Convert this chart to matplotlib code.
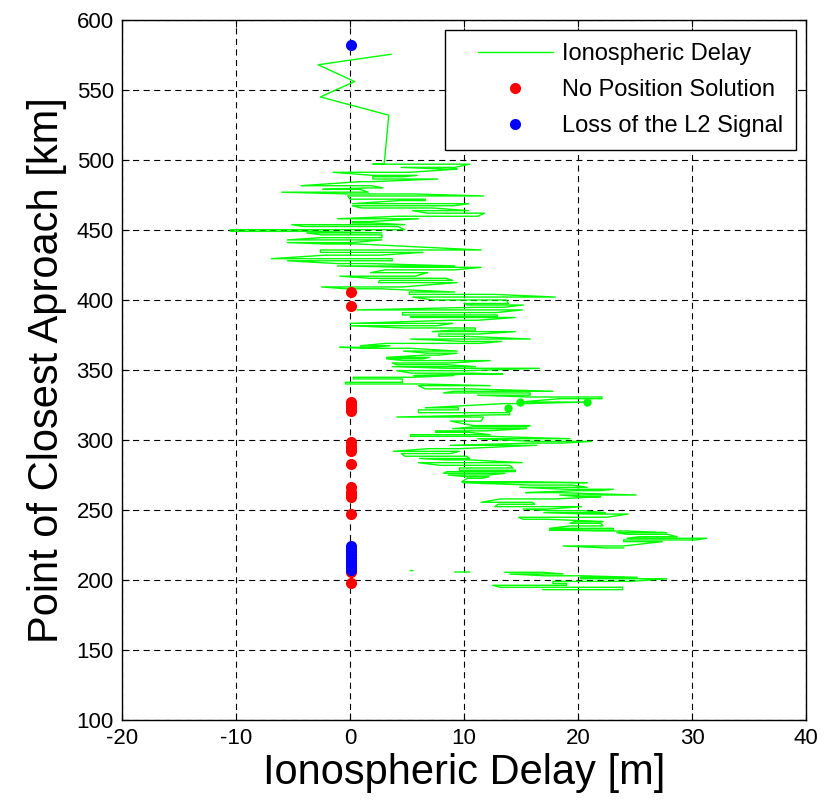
import numpy as np
import matplotlib.pyplot as plt
from matplotlib.lines import Line2D
from matplotlib.legend_handler import HandlerLine2D

plt.rcParams['font.family'] = ['Liberation Sans', 'DejaVu Sans']
plt.rcParams['axes.unicode_minus'] = False

# Sparse samples at the top of the pass
head_delay = [3.6, -2.8, 0.4, -2.6, 3.4, 3.0]
head_pca = [575.5, 568.0, 556.0, 545.0, 532.0, 497.5]

# Dense part of the trace: each horizontal sweep as (pca, left delay, right delay)
# nan rows mark gaps in the record
sweep_pca = [497.0, 494.7, 493.5, 491.2, 489.0, 488.0, 486.4, 484.5, 481.6, 480.0,
             479.0, 477.0, 475.7, 474.3, 472.0, 471.0, 468.8, 467.3, 465.7, 463.8,
             462.0, 459.8, 458.0, 456.0, 455.0, 453.8, 452.5, 450.2, 449.0, 447.9,
             446.5, 444.5, 442.9, 441.0, 440.0, 435.7, 434.0, 432.0, 429.5, 428.0,
             426.0, 424.3, 423.3, 421.5, 419.5, 417.0, 415.5, 414.0, 412.4, 409.3,
             408.0, 405.7, 404.0, 402.1, 400.0, 397.5, 396.4, 394.8, 392.9, 391.0,
             389.3, 388.0, 387.5, 385.5, 383.3, 381.6, 380.0, 378.5, 377.4, 375.7,
             374.0, 372.1, 370.4, 369.0, 367.3, 366.2, 365.5, 363.5, 362.0, 360.6,
             359.0, 358.0, 356.7, 355.0, 353.8, 352.4, 351.2, 349.5, 347.7, 347.0,
             346.0, 344.8, 343.6, 341.2, 340.0, 338.8, 336.5, 334.8, 333.6, 332.0,
             330.7, 329.5, 327.1, 326.0, 323.0, 321.5, 319.5, 318.0, 316.4, 313.5,
             310.3, 309.3, 308.1, 306.5, 305.5, 303.8, 302.6, 300.9, 299.0, 297.8,
             296.2, 293.8, 291.9, 290.3, 288.4, 286.8, 285.8, 283.8, 281.9, 280.0,
             278.4, 277.4, 276.2, 275.0, 273.8, 272.6, 270.2, 269.5, 267.8, 266.2,
             264.8, 263.8, 262.4, 260.7, 259.5, 257.9, 255.5, 254.1, 252.4, 250.7,
             249.5, 248.1, 247.1, 244.8, 243.4, 241.7, 240.5, 238.6, 236.9, 235.7,
             235.0, 233.8, 232.6, 230.9, 229.8, 228.6, 227.4, 224.3, 222.9, np.nan,
             206.7, np.nan, 205.7, np.nan, 205.5, 204.3, 203.0, 201.9, 200.9, 199.0,
             197.5, 196.2, 194.8, 193.1]
sweep_left = [2.0, 4.5, 8.3, -1.5, 2.0, 2.0, 2.0, 0.8, -4.3, 1.3,
              -2.4, -6.0, 0.0, -0.2, 0.0, 4.3, 0.2, 0.2, 1.0, 5.5,
              6.8, 4.2, -1.1, 0.2, 0.2, -5.1, -4.1, -10.5, -10.5, -3.8,
              -2.5, -2.5, -5.5, -5.5, -2.2, -2.6, -2.6, -2.2, -6.9, -5.5,
              -1.1, -1.1, 5.7, 3.1, 1.8, -0.9, 1.8, 2.6, 2.5, -2.5,
              -0.4, 5.2, 5.2, 5.5, 7.3, 10.0, 10.3, 11.2, 0.6, 4.6,
              4.6, 5.3, 5.3, 8.8, 0.0, 0.0, 4.7, 9.0, 7.2, 7.8,
              7.8, 5.3, 10.0, 3.2, 0.9, -0.9, 1.1, 4.7, 6.8, 6.6,
              3.2, 3.2, 4.7, 3.7, 4.1, 3.7, 8.6, 4.1, 5.4, 10.5,
              5.6, 0.3, 0.3, -0.4, -0.4, 6.0, 6.6, 9.1, 8.2, 11.2,
              15.8, 18.4, 14.9, 13.5, 6.6, 6.0, 6.0, 13.0, 4.1, 8.8,
              10.8, 10.8, 9.0, 7.5, 7.5, 5.3, 5.3, 11.2, 16.1, 16.1,
              8.8, 6.9, 3.8, 4.5, 4.8, 6.1, 8.3, 6.0, 7.9, 9.6,
              9.6, 8.5, 8.2, 8.6, 10.2, 10.3, 9.8, 9.9, 15.8, 14.9,
              19.0, 19.9, 15.4, 18.4, 20.2, 13.2, 11.5, 13.0, 12.7, 15.2,
              17.5, 17.0, 20.9, 14.8, 15.2, 19.7, 19.3, 19.3, 17.5, 17.5,
              22.2, 23.4, 24.3, 25.4, 24.3, 24.0, 24.0, 18.7, 22.4, np.nan,
              5.3, np.nan, 9.2, np.nan, 13.6, 14.0, 17.1, 20.2, 20.2, 17.8,
              17.8, 12.5, 13.2, 16.9]
sweep_right = [10.5, 9.2, 9.4, 5.3, 5.9, 4.6, 7.7, 1.9, 1.9, 2.9,
               0.9, 1.6, 5.7, 11.7, 6.6, 6.6, 10.4, 9.1, 7.3, 10.4,
               11.8, 11.2, 6.0, 1.8, 2.0, 4.8, 4.2, 4.8, -3.3, 2.8,
               2.8, 2.8, 2.8, 0.2, 0.7, 11.5, 6.4, 2.6, 3.7, 3.7,
               1.8, 9.2, 11.5, 9.2, 6.8, 5.7, 8.4, 9.0, 9.4, 4.6,
               2.6, 9.2, 12.7, 18.0, 13.7, 13.9, 15.2, 13.5, 15.1, 12.8,
               12.9, 12.9, 14.5, 11.2, 9.0, 7.6, 11.0, 11.0, 14.5, 11.3,
               10.3, 15.8, 13.3, 11.4, 3.5, 1.9, 5.3, 9.4, 9.4, 7.8,
               7.0, 6.4, 12.3, 8.8, 8.4, 11.0, 16.6, 10.2, 10.9, 13.4,
               9.1, 5.5, 4.6, 4.6, 6.1, 12.3, 10.4, 17.8, 15.8, 15.8,
               22.1, 22.1, 20.8, 15.5, 9.5, 9.5, 14.0, 14.0, 11.7, 11.5,
               15.8, 15.5, 15.5, 12.0, 10.4, 12.3, 12.2, 19.3, 21.2, 18.7,
               16.4, 9.6, 9.6, 8.8, 10.2, 10.5, 10.4, 15.1, 14.0, 14.3,
               14.5, 14.5, 13.6, 12.2, 12.2, 11.6, 15.2, 20.8, 19.5, 20.8,
               23.1, 22.0, 18.2, 25.1, 22.0, 18.0, 16.0, 16.2, 20.3, 17.5,
               20.4, 22.4, 24.4, 22.5, 17.3, 22.2, 22.0, 22.2, 23.1, 23.1,
               24.3, 27.8, 27.8, 28.7, 31.3, 30.3, 27.4, 24.0, 24.0, np.nan,
               5.5, np.nan, 10.5, np.nan, 16.9, 18.7, 20.3, 25.2, 27.8, 24.6,
               19.0, 19.0, 23.9, 23.9]

# Isolated samples drawn as green blobs on the trace
blob_delay = [14.9, 20.8, 13.9]
blob_pca = [327.1, 327.1, 323.0]

# Events
nps_pca = [405.5, 396.0, 327.0, 325.0, 323.0, 321.0, 298.5, 296.0, 294.0, 292.0,
           282.5, 266.4, 263.0, 260.5, 259.2, 247.0, 206.0, 198.0]
los_pca = [582.0, 224.0, 222.0, 220.0, 218.0, 216.0, 214.0, 212.0, 210.0, 208.5, 207.0]

# Build the trace: sweeps alternate left->right and right->left
delay = list(head_delay)
pca = list(head_pca)
for i, (y, lo, hi) in enumerate(zip(sweep_pca, sweep_left, sweep_right)):
    if i % 2 == 0:
        delay += [lo, hi]
    else:
        delay += [hi, lo]
    pca += [y, y]

fig = plt.figure(figsize=(8.33, 8.05), dpi=100)
ax = fig.add_axes([0.1465, 0.1056, 0.8211, 0.8696])

ax.plot(delay, pca, color=(0, 1, 0), lw=1.0, label='Ionospheric Delay')
ax.plot(blob_delay, blob_pca, 'o', color=(0, 1, 0), ms=6, mec='none')
ax.plot(np.full(len(nps_pca), 0.1), nps_pca, 'o', color='red', ms=8, mec='none',
        label='No Position Solution')
ax.plot(np.full(len(los_pca), 0.1), los_pca, 'o', color='blue', ms=8, mec='none',
        label='Loss of the L2 Signal')

ax.set_xlim(-20, 40)
ax.set_ylim(100, 600)
ax.set_xticks(np.arange(-20, 41, 10))
ax.set_yticks(np.arange(100, 601, 50))
ax.tick_params(direction='in', top=True, right=True, length=5, labelsize=16, pad=6)
ax.grid(True, color='k', linestyle=(0, (5.5, 4)), linewidth=0.8)
for s in ax.spines.values():
    s.set_linewidth(1.0)

ax.set_xlabel('Ionospheric Delay [m]', fontsize=30, labelpad=3)
ax.set_ylabel('Point of Closest Aproach [km]', fontsize=30, labelpad=7)

# Title sits above the canvas; only the descenders show
fig.text(395 / 833, 1.009, 'Ionospheric Delay', ha='right', va='baseline',
         fontsize=24, fontweight='bold')

leg = ax.legend(loc='upper right', fontsize=17, handlelength=4.0, numpoints=1,
                handletextpad=0.4, fancybox=False, framealpha=1, edgecolor='k',
                borderaxespad=0.42, borderpad=0.55, labelspacing=0.6,
                handler_map={Line2D: HandlerLine2D(xpad=0.85)})
leg.get_frame().set_linewidth(1.0)

fig.savefig('out.png', dpi=100)
